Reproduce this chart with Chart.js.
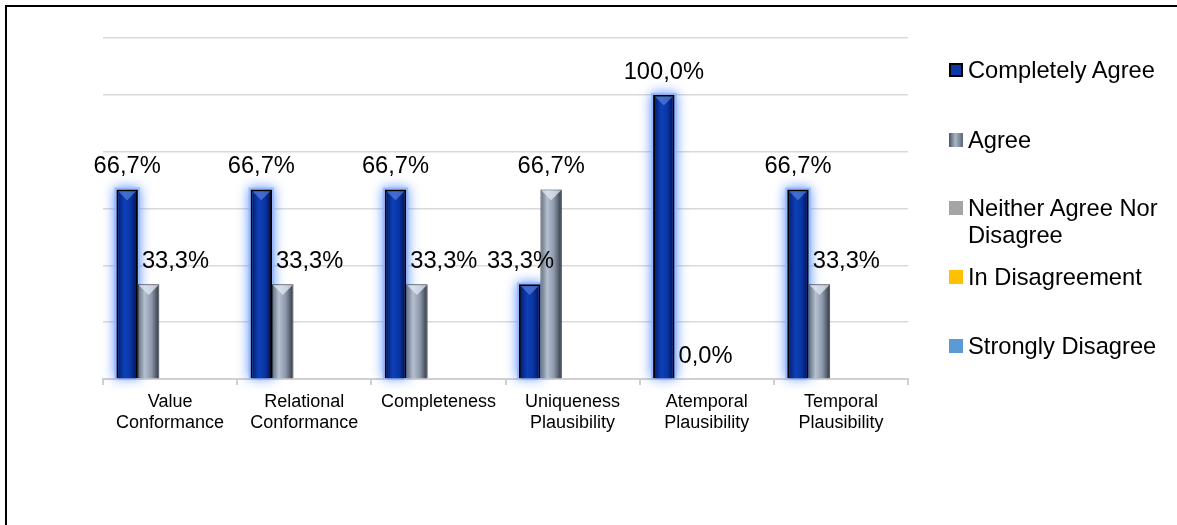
<!DOCTYPE html>
<html>
<head>
<meta charset="utf-8">
<script src="https://cdn.jsdelivr.net/npm/chart.js@4.4.1/dist/chart.umd.min.js"></script>
<style>
  html, body { margin: 0; padding: 0; background: #fff; }
  #wrap { position: relative; width: 1177px; height: 525px; overflow: hidden; font-family: "Liberation Sans", Arial, sans-serif; }
  #frame { position: absolute; left: 5px; top: 5px; width: 1300px; height: 700px; border-top: 2px solid #000; border-left: 2px solid #000; }
  #chart { position: absolute; left: 0; top: 0; }
  .lg { position: absolute; left: 949px; height: 27px; font-size: 23.7px; line-height: 27px; color: #000; }
  .lg i { position: absolute; left: 0; top: 6px; width: 14px; height: 14px; box-sizing: border-box; }
  .lg span { position: absolute; left: 19px; top: 0; white-space: nowrap; }
</style>
</head>
<body>
<div id="wrap">
  <div id="frame"></div>
  <canvas id="chart" width="1177" height="525"></canvas>
  <div id="legend"></div>
</div>
<script>
// categories and answers (percent of respondents)
const categories = [
  ["Value", "Conformance"],
  ["Relational", "Conformance"],
  "Completeness",
  ["Uniqueness", "Plausibility"],
  ["Atemporal", "Plausibility"],
  ["Temporal", "Plausibility"]
];
const seriesNames = ["Completely Agree", "Agree", "Neither Agree Nor Disagree", "In Disagreement", "Strongly Disagree"];
const completelyAgree = [66.7, 66.7, 66.7, 33.3, 100.0, 66.7];
const agree = [33.3, 33.3, 33.3, 66.7, 0.0, 33.3];
const neitherAgree = [null, null, null, null, null, null];
const inDisagreement = [null, null, null, null, null, null];
const stronglyDisagree = [null, null, null, null, null, null];
const yTicks = [0, 20, 40, 60, 80, 100, 120];

const seriesColors = ["#0b3aa8", "#8d99ab", "#a5a5a5", "#ffc000", "#5b9bd5"];
const legendSwatches = [
  "background:#0b3aa8;border:2px solid #000",
  "background:linear-gradient(90deg,#4a5363,#aab6c7 45%,#5c6676);",
  "background:#a5a5a5",
  "background:#ffc000",
  "background:#5b9bd5"
];
const legendCenters = [70, 140, 208, 277, 346];

// html legend, Excel style spacing
const legendEl = document.getElementById("legend");
seriesNames.forEach(function (name, i) {
  const d = document.createElement("div");
  d.className = "lg";
  d.style.top = (legendCenters[i] - 13.5) + "px";
  const txt = name === "Neither Agree Nor Disagree" ? "Neither Agree Nor<br>Disagree" : name;
  d.innerHTML = '<i style="' + legendSwatches[i] + '"></i><span>' + txt + "</span>";
  legendEl.appendChild(d);
});

function fmt(v) {
  return v.toFixed(1).replace(".", ",") + "%";
}

const LABEL_FONT = '23.7px "Liberation Sans", Arial, sans-serif';

const barLook = {
  id: "barLook",
  beforeDatasetsDraw(chart) {
    // soft blue glow behind the "Completely Agree" bars
    const ctx = chart.ctx;
    const meta = chart.getDatasetMeta(0);
    ctx.save();
    ctx.shadowColor = "rgba(70,130,255,0.95)";
    ctx.shadowBlur = 12;
    ctx.fillStyle = "rgba(150,185,255,0.9)";
    meta.data.forEach(function (bar) {
      const p = bar.getProps(["x", "y", "base", "width"], true);
      if (p.base - p.y < 1) return;
      ctx.fillRect(p.x - p.width / 2 - 2, p.y - 2, p.width + 4, p.base - p.y + 2);
    });
    ctx.restore();
  },
  afterDatasetsDraw(chart) {
    const ctx = chart.ctx;
    const looks = [
      { inset: 2, stops: [[0, "#05207a"], [0.35, "#0d40b8"], [0.7, "#0a36a4"], [1, "#041763"]], cap: "rgba(110,145,230,0.55)" },
      { inset: 1, stops: [[0, "#6c7788"], [0.3, "#b5c1d1"], [0.65, "#8c98ab"], [1, "#3b424d"]], cap: "rgba(225,232,244,0.75)" }
    ];
    looks.forEach(function (look, di) {
      const meta = chart.getDatasetMeta(di);
      meta.data.forEach(function (bar) {
        const p = bar.getProps(["x", "y", "base", "width"], true);
        const h = p.base - p.y;
        if (h < 3) return;
        const l = p.x - p.width / 2 + look.inset;
        const r = p.x + p.width / 2 - look.inset;
        const t = p.y + look.inset;
        const g = ctx.createLinearGradient(l, 0, r, 0);
        look.stops.forEach(function (s) { g.addColorStop(s[0], s[1]); });
        ctx.save();
        ctx.fillStyle = g;
        ctx.fillRect(l, t, r - l, p.base - t);
        ctx.fillStyle = look.cap;
        ctx.beginPath();
        ctx.moveTo(l, t);
        ctx.lineTo(r, t);
        ctx.lineTo(p.x, t + (r - l) / 2);
        ctx.closePath();
        ctx.fill();
        ctx.restore();
      });
    });

    // data labels, nudged sideways when a taller neighbour is in the way
    ctx.save();
    ctx.font = LABEL_FONT;
    ctx.fillStyle = "#000";
    ctx.textAlign = "center";
    ctx.textBaseline = "alphabetic";
    const values = [completelyAgree, agree];
    values.forEach(function (vals, di) {
      const meta = chart.getDatasetMeta(di);
      meta.data.forEach(function (bar, i) {
        const v = vals[i];
        if (v === null) return;
        const p = bar.getProps(["x", "y", "width"], true);
        const text = fmt(v);
        const w = ctx.measureText(text).width;
        let dx = 0;
        if (di === 1 && completelyAgree[i] > v) dx = w / 2 - p.width / 2 + 4;
        if (di === 0 && agree[i] > v) dx = -(w / 2 - p.width / 2) * 0.4;
        ctx.fillText(text, p.x + dx, p.y - 16);
      });
    });
    ctx.restore();
  }
};

const seriesData = [completelyAgree, agree, neitherAgree, inDisagreement, stronglyDisagree];

new Chart(document.getElementById("chart").getContext("2d"), {
  type: "bar",
  data: {
    labels: categories,
    datasets: seriesNames.map(function (name, i) {
      return {
        label: name,
        data: seriesData[i],
        backgroundColor: seriesColors[i],
        borderColor: i === 0 ? "#000" : "#2e333b",
        borderWidth: i === 0 ? 2 : 1,
        categoryPercentage: 0.8,
        barPercentage: 1
      };
    })
  },
  options: {
    responsive: false,
    animation: false,
    devicePixelRatio: 1,
    layout: { padding: { left: 103, right: 269, top: 38, bottom: 86 } },
    plugins: {
      legend: { display: false },
      tooltip: { enabled: false }
    },
    scales: {
      x: {
        grid: { offset: true, drawOnChartArea: false, drawTicks: true, tickLength: 6, color: "#d0d0d0", lineWidth: 2 },
        border: { color: "#d0d0d0", width: 2 },
        ticks: {
          color: "#000",
          padding: 6,
          maxRotation: 0,
          autoSkip: false,
          font: { family: '"Liberation Sans", Arial, sans-serif', size: 18, lineHeight: 1.2 }
        },
        afterFit: function (scale) { scale.height = 60; }
      },
      y: {
        min: yTicks[0],
        max: yTicks[yTicks.length - 1],
        afterBuildTicks: function (scale) {
          scale.ticks = yTicks.map(function (v) { return { value: v }; });
        },
        grid: { drawTicks: false, color: "#d9d9d9", lineWidth: 1.5 },
        border: { display: false },
        ticks: { display: false },
        afterFit: function (scale) { scale.width = 0; }
      }
    }
  },
  plugins: [barLook]
});
</script>
</body>
</html>
